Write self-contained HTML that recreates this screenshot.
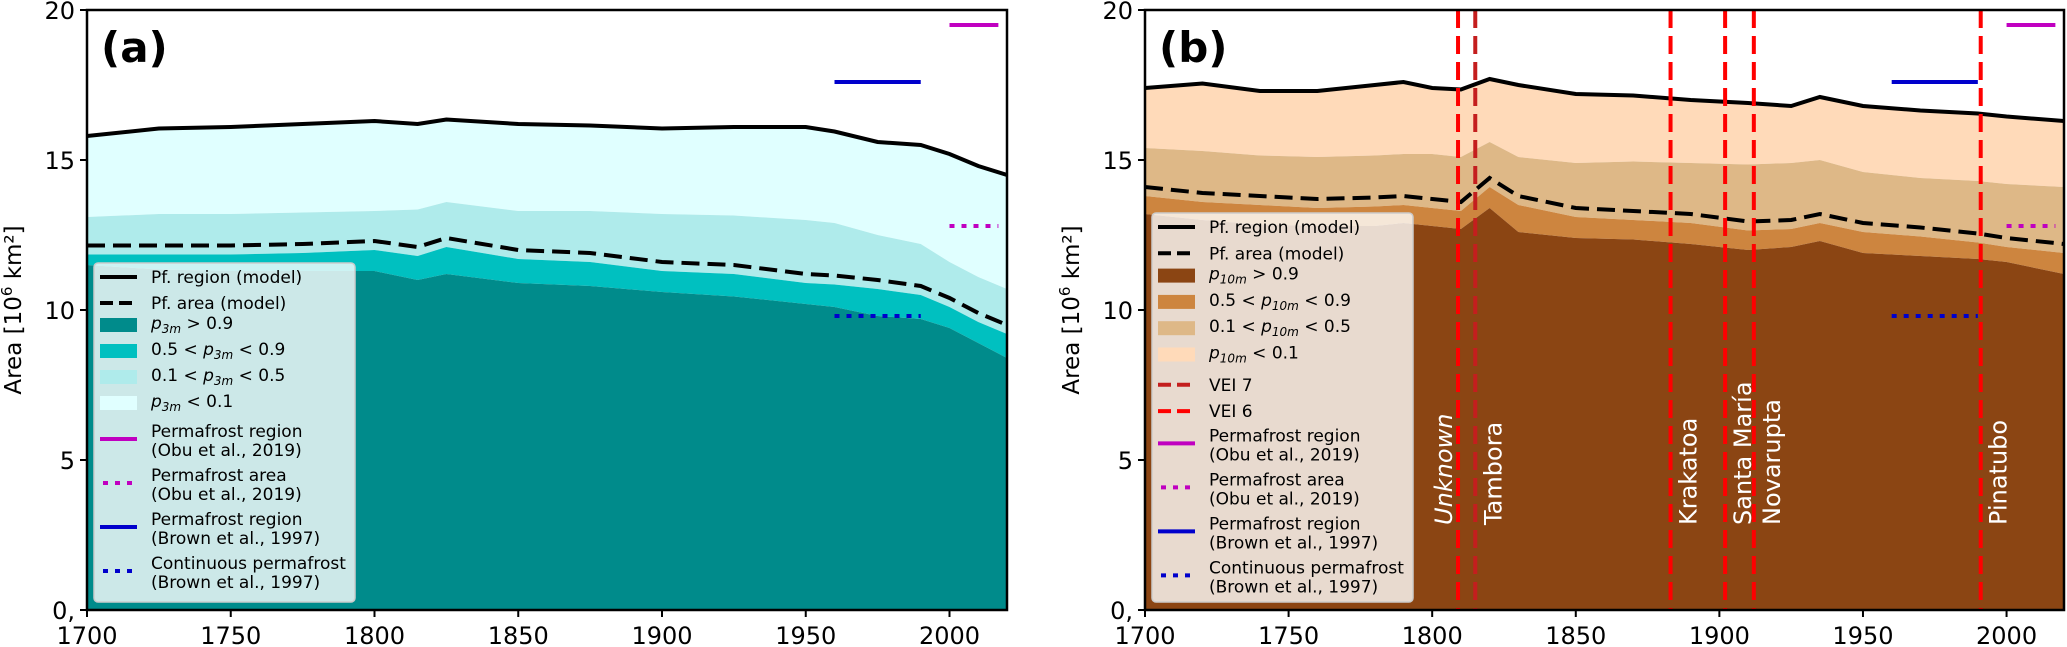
<!DOCTYPE html>
<html><head><meta charset="utf-8"><style>
body{margin:0;background:#fff}
svg{display:block;font-family:"DejaVu Sans","Liberation Sans",sans-serif}
</style></head><body>
<svg id="fig" width="2067" height="647" viewBox="0 0 2067 647" xmlns="http://www.w3.org/2000/svg"></svg>
<script>
// ---------- data ----------
const yearsA = [1700,1725,1750,1775,1800,1815,1825,1850,1875,1900,1925,1950,1960,1975,1990,2000,2010,2020];
const regionA = [15.8,16.05,16.1,16.2,16.3,16.2,16.35,16.2,16.15,16.05,16.1,16.1,15.95,15.6,15.5,15.2,14.8,14.5];
const p01A   = [13.1,13.2,13.2,13.25,13.3,13.35,13.6,13.3,13.3,13.2,13.15,13.0,12.9,12.5,12.2,11.6,11.1,10.7];
const areaA  = [12.15,12.15,12.15,12.2,12.3,12.1,12.4,12.0,11.9,11.6,11.5,11.2,11.15,11.0,10.8,10.4,9.9,9.5];
const p05A   = [11.85,11.85,11.85,11.9,12.0,11.8,12.1,11.7,11.6,11.3,11.2,10.9,10.85,10.7,10.5,10.1,9.6,9.2];
const p09A   = [11.5,11.35,11.3,11.3,11.3,11.0,11.2,10.9,10.8,10.6,10.45,10.2,10.1,9.8,9.7,9.4,8.9,8.4];

const yearsB = [1700,1720,1740,1760,1780,1790,1800,1810,1820,1830,1850,1870,1890,1910,1925,1935,1950,1970,1990,2000,2020];
const regionB = [17.4,17.55,17.3,17.3,17.5,17.6,17.4,17.35,17.7,17.5,17.2,17.15,17.0,16.9,16.8,17.1,16.8,16.65,16.55,16.45,16.3];
const p01B   = [15.4,15.3,15.15,15.1,15.15,15.2,15.2,15.1,15.6,15.1,14.9,14.95,14.9,14.85,14.9,15.0,14.6,14.4,14.3,14.2,14.1];
const areaB  = [14.1,13.9,13.8,13.7,13.75,13.8,13.7,13.6,14.4,13.8,13.4,13.3,13.2,12.95,13.0,13.2,12.9,12.75,12.55,12.4,12.2];
const p05B   = [13.8,13.6,13.5,13.4,13.45,13.5,13.4,13.3,14.1,13.5,13.1,13.0,12.9,12.65,12.7,12.9,12.6,12.45,12.25,12.1,11.9];
const p09B   = [13.2,13.0,12.85,12.8,12.8,12.9,12.8,12.7,13.4,12.6,12.4,12.35,12.2,12.0,12.1,12.3,11.9,11.8,11.7,11.6,11.2];

const volcYears = [1809,1815,1883,1902,1912,1991];
const volcNames = ["Unknown","Tambora","Krakatoa","Santa María","Novarupta","Pinatubo"];
const volcVEI = [6,7,6,6,6,6];

const yTicks = [0,5,10,15,20];
const yTickLabels = ["0,","5","10","15","20"];
const xTicks = [1700,1750,1800,1850,1900,1950,2000];

// ---------- helpers ----------
const NS="http://www.w3.org/2000/svg";
const svg=document.getElementById('fig');
function el(tag,attrs,parent){const e=document.createElementNS(NS,tag);for(const k in attrs)e.setAttribute(k,attrs[k]);(parent||svg).appendChild(e);return e;}
const Y0=610,Y1=10;
function yS(v){return Y0-(v/20)*(Y0-Y1);}
function makeX(l,r){return y=>l+(y-1700)/320*(r-l);}

function drawPanel(p){
  const g=el('g',{});
  
  
  const xS=makeX(p.l,p.r);
  const clip=el('clipPath',{id:'c'+p.id},g);
  el('rect',{x:p.l,y:Y1,width:p.r-p.l,height:Y0-Y1},clip);
  const pg=el('g',{'clip-path':'url(#c'+p.id+')'},g);
  const area=(top,bot)=>{let d='';p.years.forEach((y,i)=>{d+=(i?'L':'M')+xS(y)+','+yS(top[i]);});
    for(let i=p.years.length-1;i>=0;i--)d+='L'+xS(p.years[i])+','+yS(bot?bot[i]:0);return d+'Z';};
  const line=(vals)=>p.years.map((y,i)=>(i?'L':'M')+xS(y)+','+yS(vals[i])).join('');
  let a;
  a=el('path',{d:area(p.region,p.p01),fill:p.c[3]},pg);
  a=el('path',{d:area(p.p01,p.p05),fill:p.c[2]},pg);
  a=el('path',{d:area(p.p05,p.p09),fill:p.c[1]},pg);
  a=el('path',{d:area(p.p09,null),fill:p.c[0]},pg);
  a=el('path',{d:line(p.area),fill:'none',stroke:'#000','stroke-width':4,'stroke-dasharray':'18,8'},pg);
  a=el('path',{d:line(p.region),fill:'none',stroke:'#000','stroke-width':4},pg);
  if(p.volc){
    volcYears.forEach((vy,i)=>{
      const x=xS(vy);
      const l=el('line',{x1:x,x2:x,y1:Y1,y2:Y0,stroke:volcVEI[i]==7?'#c41e1e':'#ff0000','stroke-width':4,'stroke-dasharray':'18,8'},pg);
      
      
      const tx=i==0?x-6:x+26;
      const t=el('text',{x:0,y:0,transform:'translate('+tx+',525) rotate(-90)',fill:'#fff','font-size':24,'font-style':i==0?'italic':'normal'},pg);
      t.textContent=volcNames[i];
      
      
    });
  }
  const refs=[[2000,2017,19.5,'#c000c0',null],[1960,1990,17.6,'#0000cc',null],[2000,2017,12.8,'#c000c0','5,7'],[1960,1990,9.8,'#0000cc','5,7']];
  refs.forEach(r=>{const l=el('line',{x1:xS(r[0]),x2:xS(r[1]),y1:yS(r[2]),y2:yS(r[2]),stroke:r[3],'stroke-width':4},pg);
    if(r[4])l.setAttribute('stroke-dasharray',r[4]);
    
    });
  el('rect',{x:p.l,y:Y1,width:p.r-p.l,height:Y0-Y1,fill:'none',stroke:'#000','stroke-width':2.5},g);
  yTicks.forEach((v,i)=>{el('line',{x1:p.l-7,x2:p.l,y1:yS(v),y2:yS(v),stroke:'#000','stroke-width':2},g);
    const t=el('text',{x:p.l-12,y:yS(v)+9,'text-anchor':'end','font-size':24},g);t.textContent=yTickLabels[i];
    });
  xTicks.forEach(v=>{el('line',{x1:xS(v),x2:xS(v),y1:Y0,y2:Y0+7,stroke:'#000','stroke-width':2},g);
    const t=el('text',{x:xS(v),y:Y0+34,'text-anchor':'middle','font-size':24},g);t.textContent=v;
    });
  const yl=el('text',{transform:'translate('+(p.l-66)+','+((Y0+Y1)/2)+') rotate(-90)','text-anchor':'middle','font-size':23},g);
  yl.innerHTML='Area [10<tspan dy="-9" font-size="15">6</tspan><tspan dy="9"> km²]</tspan>';
  
  const pl=el('text',{x:p.l+14,y:62,'font-size':42,'font-weight':'bold'},g);pl.textContent=p.label;
  
  const lg=el('g',{},g);
  const lx=p.l+7;
  el('rect',{x:lx,y:p.legTop,width:261,height:602-p.legTop,rx:4,fill:'rgba(255,255,255,0.8)',stroke:'#ccc','stroke-width':1.5},lg);
  let y=p.legTop+14;
  const hx=lx+6,tx=lx+57,fs=17;
  const sub=p.id=='a'?'3m':'10m';
  const add=(kind,color,text,two)=>{
    const cy=y;
    if(kind=='line')el('line',{x1:hx,x2:hx+37,y1:cy,y2:cy,stroke:color,'stroke-width':4},lg);
    if(kind=='dash')el('line',{x1:hx,x2:hx+37,y1:cy,y2:cy,stroke:color,'stroke-width':4,'stroke-dasharray':'13,6'},lg);
    if(kind=='dot')el('line',{x1:hx+3,x2:hx+37,y1:cy,y2:cy,stroke:color,'stroke-width':4,'stroke-dasharray':'5,7'},lg);
    if(kind=='patch')el('rect',{x:hx,y:cy-6-5,width:37,height:14,fill:color},lg);
    const t=el('text',{x:tx,y:two?cy-2:cy+6,'font-size':fs},lg);t.innerHTML=text;
    if(two){const t2=el('text',{x:tx,y:cy+17,'font-size':fs},lg);t2.textContent=two;y+=44;}else y+=p.step;
    if(kind=='patch')t.setAttribute('y',cy);
  };
  const pv='<tspan font-style="italic">p</tspan><tspan font-size="12" dy="4" font-style="italic">'+sub+'</tspan><tspan dy="-4">';
  add('line','#000','Pf. region (model)');
  add('dash','#000','Pf. area (model)');
  add('patch',p.c[0],pv+' &gt; 0.9</tspan>');
  add('patch',p.c[1],'0.5 &lt; '+pv+' &lt; 0.9</tspan>');
  add('patch',p.c[2],'0.1 &lt; '+pv+' &lt; 0.5</tspan>');
  add('patch',p.c[3],pv+' &lt; 0.1</tspan>');
  if(p.volc){add('dash','#c41e1e','VEI 7');add('dash','#ff0000','VEI 6');}
  y+=6;
  add('line','#c000c0','Permafrost region','(Obu et al., 2019)');
  add('dot','#c000c0','Permafrost area','(Obu et al., 2019)');
  add('line','#0000cc','Permafrost region','(Brown et al., 1997)');
  add('dot','#0000cc','Continuous permafrost','(Brown et al., 1997)');
}

drawPanel({id:'a',name:'panel-a',label:'(a)',l:87,r:1007,years:yearsA,region:regionA,p01:p01A,area:areaA,p05:p05A,p09:p09A,
  c:['#008b8b','#00c0c0','#afebeb','#e0ffff'],legTop:263,step:26,volc:false});
drawPanel({id:'b',name:'panel-b',label:'(b)',l:1145,r:2064,years:yearsB,region:regionB,p01:p01B,area:areaB,p05:p05B,p09:p09B,
  c:['#8b4513','#cd853f','#deb887','#ffdab9'],legTop:213,step:26.3,volc:true});
</script>
</body></html>
